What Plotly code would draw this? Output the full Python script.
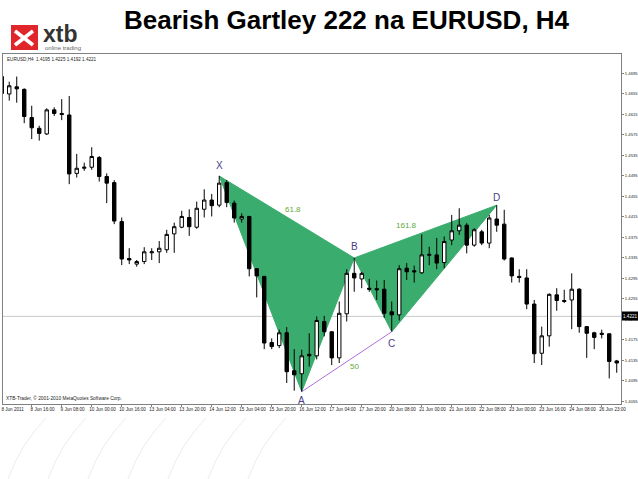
import plotly.graph_objects as go

# ---------------- data ----------------
open_ = [1.4689, 1.4655, 1.4669, 1.4664, 1.4609, 1.4588, 1.4577, 1.4624, 1.4617, 1.4614,
         1.4500, 1.4510, 1.4512, 1.4531, 1.4494, 1.4482, 1.4406, 1.4334, 1.4323, 1.4328,
         1.4345, 1.4347, 1.4351, 1.4382, 1.4395, 1.4414, 1.4395, 1.4430, 1.4448, 1.4438,
         1.4482, 1.4442, 1.4411, 1.4416, 1.4314, 1.4299, 1.4170, 1.4164, 1.4189, 1.4115,
         1.4109, 1.4147, 1.4144, 1.4211, 1.4191, 1.4140, 1.4226, 1.4305, 1.4294, 1.4276,
         1.4275, 1.4274, 1.4230, 1.4224, 1.4315, 1.4310, 1.4306, 1.4340, 1.4341, 1.4326,
         1.4370, 1.4388, 1.4399, 1.4360, 1.4386, 1.4364, 1.4411, 1.4401, 1.4335, 1.4299,
         1.4296, 1.4245, 1.4149, 1.4183, 1.4263, 1.4250, 1.4253, 1.4274, 1.4201, 1.4189,
         1.4188, 1.4187, 1.4134]
high = [1.4692, 1.4679, 1.4689, 1.4666, 1.4632, 1.4593, 1.4627, 1.4629, 1.4645, 1.4651,
        1.4538, 1.4521, 1.4551, 1.4534, 1.4500, 1.4487, 1.4414, 1.4354, 1.4331, 1.4356,
        1.4354, 1.4368, 1.4390, 1.4404, 1.4427, 1.4430, 1.4445, 1.4469, 1.4460, 1.4495,
        1.4487, 1.4447, 1.4422, 1.4417, 1.4315, 1.4300, 1.4178, 1.4195, 1.4200, 1.4157,
        1.4156, 1.4188, 1.4221, 1.4222, 1.4192, 1.4250, 1.4313, 1.4335, 1.4308, 1.4294,
        1.4291, 1.4292, 1.4250, 1.4321, 1.4325, 1.4320, 1.4381, 1.4357, 1.4374, 1.4377,
        1.4419, 1.4432, 1.4403, 1.4393, 1.4390, 1.4419, 1.4438, 1.4429, 1.4336, 1.4313,
        1.4313, 1.4253, 1.4201, 1.4266, 1.4276, 1.4273, 1.4305, 1.4276, 1.4202, 1.4191,
        1.4195, 1.4188, 1.4136]
low = [1.4653, 1.4642, 1.4638, 1.4598, 1.4567, 1.4564, 1.4575, 1.4612, 1.4604, 1.4479,
       1.4492, 1.4505, 1.4507, 1.4484, 1.4442, 1.4401, 1.4321, 1.4323, 1.4318, 1.4323,
       1.4331, 1.4325, 1.4345, 1.4345, 1.4393, 1.4378, 1.4392, 1.4414, 1.4416, 1.4434,
       1.4434, 1.4404, 1.4404, 1.4299, 1.4258, 1.4157, 1.4157, 1.4159, 1.4091, 1.4076,
       1.4074, 1.4123, 1.4137, 1.4182, 1.4126, 1.4130, 1.4211, 1.4269, 1.4276, 1.4269,
       1.4253, 1.4218, 1.4191, 1.4213, 1.4292, 1.4287, 1.4304, 1.4321, 1.4313, 1.4315,
       1.4360, 1.4380, 1.4344, 1.4357, 1.4360, 1.4354, 1.4386, 1.4330, 1.4287, 1.4287,
       1.4235, 1.4130, 1.4126, 1.4162, 1.4232, 1.4247, 1.4196, 1.4189, 1.4140, 1.4157,
       1.4178, 1.4100, 1.4111]
close = [1.4656, 1.4671, 1.4665, 1.4611, 1.4589, 1.4578, 1.4624, 1.4617, 1.4615, 1.4499,
         1.4510, 1.4512, 1.4533, 1.4494, 1.4481, 1.4407, 1.4333, 1.4331, 1.4328, 1.4347,
         1.4347, 1.4354, 1.4381, 1.4396, 1.4416, 1.4396, 1.4432, 1.4448, 1.4437, 1.4481,
         1.4443, 1.4413, 1.4416, 1.4314, 1.4300, 1.4169, 1.4162, 1.4189, 1.4113, 1.4107,
         1.4144, 1.4144, 1.4213, 1.4191, 1.4140, 1.4227, 1.4305, 1.4296, 1.4305, 1.4274,
         1.4273, 1.4227, 1.4224, 1.4314, 1.4308, 1.4308, 1.4341, 1.4342, 1.4325, 1.4367,
         1.4388, 1.4399, 1.4360, 1.4390, 1.4364, 1.4413, 1.4399, 1.4333, 1.4300, 1.4297,
         1.4245, 1.4148, 1.4183, 1.4264, 1.4252, 1.4252, 1.4274, 1.4201, 1.4188, 1.4180,
         1.4186, 1.4133, 1.4130]

time_labels = ["8 Jun 2011", "8 Jun 16:00", "9 Jun 08:00", "10 Jun 00:00", "10 Jun 16:00",
               "13 Jun 04:00", "13 Jun 20:00", "14 Jun 12:00", "15 Jun 04:00", "15 Jun 20:00",
               "16 Jun 12:00", "17 Jun 04:00", "17 Jun 20:00", "20 Jun 08:00", "21 Jun 00:00",
               "21 Jun 16:00", "22 Jun 08:00", "23 Jun 00:00", "23 Jun 16:00", "24 Jun 08:00",
               "26 Jun 23:00"]

pattern_names = ["X", "A", "B", "C", "D"]
pattern_idx = [29, 40, 47, 52, 66]
pattern_price = [1.4495, 1.4074, 1.4335, 1.4191, 1.4438]

ratio_text = ["61.8", "161.8", "50"]
current_price = 1.4221
header_text = "EURUSD,H4  1.4195 1.4225 1.4192 1.4221"
footer_text = "XTB-Trader, © 2001-2010 MetaQuotes Software Corp."
title_text = "Bearish Gartley 222 na EURUSD, H4"

# ---------------- layout helpers ----------------
W, H = 638, 479
PL, PR, PT, PB = 3, 621, 54, 404
FONT = "Liberation Sans, Arial"


def fx(px):
    return (px - PL) / (PR - PL)


def fy(py):
    return (PB - py) / (PB - PT)


n = len(open_)
xs = list(range(n))

GREEN = "#3aac6e"
LBL = "#483D8B"
RATIO = "#5fa83c"

fig = go.Figure()

# A-C line
fig.add_trace(go.Scatter(
    x=[pattern_idx[1], pattern_idx[3]], y=[pattern_price[1], pattern_price[3]],
    mode="lines", line=dict(color="#b36ee0", width=1), hoverinfo="skip", showlegend=False))

fig.add_trace(go.Candlestick(
    x=xs, open=open_, high=high, low=low, close=close,
    increasing=dict(line=dict(color="black", width=1), fillcolor="white"),
    decreasing=dict(line=dict(color="black", width=1), fillcolor="black"),
    whiskerwidth=0, showlegend=False, hoverinfo="skip"))

shapes = []
# pattern triangles (X-A-B and B-C-D) drawn beneath the candles
for tri in ([0, 1, 2], [2, 3, 4]):
    pts = ["%s %s %s" % ("M" if k == 0 else "L", pattern_idx[i], pattern_price[i]) for k, i in enumerate(tri)]
    shapes.append(dict(type="path", xref="x", yref="y", path=" ".join(pts) + " Z",
                       fillcolor=GREEN, line=dict(color=GREEN, width=1), layer="below"))
# current price line
shapes.append(dict(type="line", xref="paper", yref="y", x0=0, x1=1, y0=current_price, y1=current_price,
                   line=dict(color="#c8c8c8", width=1), layer="below"))

annotations = []
shifts = [10, -9, 11, -12, 8]
for name, xi, p, s in zip(pattern_names, pattern_idx, pattern_price, shifts):
    annotations.append(dict(x=xi, y=p, xref="x", yref="y", text=name, showarrow=False,
                            yshift=s, font=dict(family=FONT, size=10, color=LBL)))
ratio_pos = [(38.8, 1.4429), (54.0, 1.4398), (47.0, 1.4123)]
for t, (rx, ry) in zip(ratio_text, ratio_pos):
    annotations.append(dict(x=rx, y=ry, xref="x", yref="y", text=t, showarrow=False,
                            font=dict(family=FONT, size=8, color=RATIO)))

annotations.append(dict(x=fx(346.5), y=fy(20), xref="paper", yref="paper", text="<b>%s</b>" % title_text,
                        showarrow=False, xanchor="center", yanchor="middle",
                        font=dict(family=FONT, size=26, color="black")))
annotations.append(dict(x=fx(41), y=fy(34), xref="paper", yref="paper", text="<b>xtb</b>",
                        showarrow=False, xanchor="left", yanchor="middle",
                        font=dict(family=FONT, size=23, color="#333333")))
annotations.append(dict(x=fx(43), y=fy(48), xref="paper", yref="paper", text="online trading",
                        showarrow=False, xanchor="left", yanchor="middle",
                        font=dict(family=FONT, size=6, color="#666666")))
annotations.append(dict(x=fx(5), y=fy(60), xref="paper", yref="paper", text=header_text,
                        showarrow=False, xanchor="left", yanchor="middle",
                        font=dict(family=FONT, size=4.6, color="#222222")))
annotations.append(dict(x=fx(4), y=fy(398), xref="paper", yref="paper", text=footer_text,
                        showarrow=False, xanchor="left", yanchor="middle",
                        font=dict(family=FONT, size=4.8, color="#222222")))
annotations.append(dict(x=fx(630), y=fy(316), xref="paper", yref="paper", text="%.4f" % current_price,
                        showarrow=False, xanchor="center", yanchor="middle",
                        font=dict(family=FONT, size=4.6, color="white")))

shapes += [
    dict(type="rect", xref="paper", yref="paper", x0=fx(622), x1=fx(638), y0=fy(320.5), y1=fy(311.5),
         fillcolor="black", line=dict(width=0), layer="above"),
    dict(type="rect", xref="paper", yref="paper", x0=fx(11), x1=fx(38), y0=fy(50), y1=fy(25),
         fillcolor="#e1262b", line=dict(width=0)),
    dict(type="line", xref="paper", yref="paper", x0=fx(15), y0=fy(31), x1=fx(33), y1=fy(45),
         line=dict(color="white", width=3.5)),
    dict(type="line", xref="paper", yref="paper", x0=fx(15), y0=fy(45), x1=fx(33), y1=fy(31),
         line=dict(color="white", width=3.5)),
]

# faint decorative contour lines in the lower-left corner
for k in range(7):
    x0 = 8 + 40 * k
    path = "M %f %f Q %f %f %f %f" % (fx(x0), fy(479), fx(x0 + 12), fy(445), fx(x0 + 38), fy(418))
    shapes.append(dict(type="path", xref="paper", yref="paper", path=path,
                       line=dict(color="#ececec", width=1)))

tick_pos = [4 * k + 1.45 for k in range(len(time_labels))]

fig.update_layout(
    width=W, height=H,
    margin=dict(l=PL, r=W - PR, t=PT, b=H - PB, pad=0, autoexpand=False),
    paper_bgcolor="white", plot_bgcolor="white",
    boxgap=0.35,
    annotations=annotations, shapes=shapes,
    xaxis=dict(range=[0.17, 82.57], showgrid=False, zeroline=False, showline=True, mirror=True,
               linecolor="#808080", linewidth=1, rangeslider=dict(visible=False),
               tickmode="array", tickvals=tick_pos, ticktext=time_labels, ticks="",
               tickfont=dict(family=FONT, size=4.6, color="#222222"),
               minor=dict(tick0=0, dtick=4, ticks="outside", ticklen=2, tickcolor="#808080"),
               automargin=False, fixedrange=True),
    yaxis=dict(range=[1.4050, 1.4733], side="right", showgrid=False, zeroline=False, showline=True,
               mirror=True, linecolor="#808080", linewidth=1,
               tickmode="linear", tick0=1.4055, dtick=0.004, tickformat=".4f",
               ticks="outside", ticklen=2, tickcolor="#808080",
               tickfont=dict(family=FONT, size=4.2, color="#222222"),
               automargin=False, fixedrange=True),
    hovermode=False,
)

fig.write_html("out.html", config={"displayModeBar": False},
               post_script="document.body.style.margin='0';document.body.style.overflow='hidden';")
